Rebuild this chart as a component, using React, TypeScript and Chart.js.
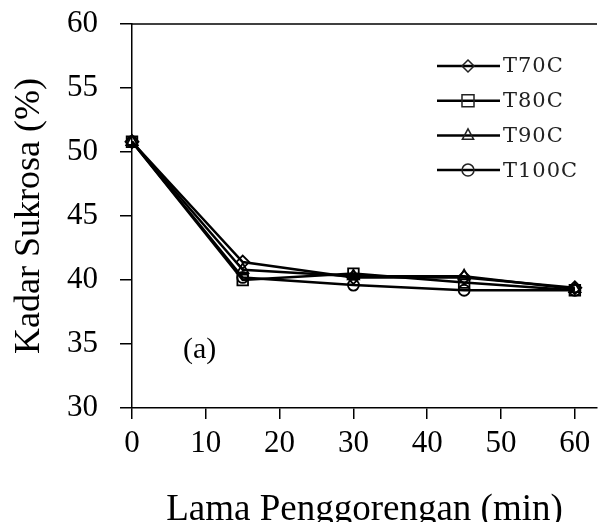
import React, { useEffect, useRef } from 'react';
import { Chart, registerables } from 'chart.js';

Chart.register(...registerables);

const minutes = [0, 15, 30, 45, 60];
const seriesNames = ['T70C', 'T80C', 'T90C', 'T100C'];
const t70 = [50.8, 41.4, 40.2, 40.2, 39.4];
const t80 = [50.8, 40.0, 40.5, 39.8, 39.2];
const t90 = [50.8, 40.8, 40.3, 40.3, 39.3];
const t100 = [50.8, 40.2, 39.6, 39.2, 39.2];
const xTicks = [0, 10, 20, 30, 40, 50, 60];
const yTicks = [30, 35, 40, 45, 50, 55, 60];
const xTitle = 'Lama Penggorengan (min)';
const yTitle = 'Kadar Sukrosa (%)';
const panelLabel = '(a)';

const seriesValues = [t70, t80, t90, t100];
const pointStyles = ['rectRot', 'rect', 'triangle', 'circle'];
const pointRadii = [6.5, 7.5, 6.5, 5.5];
const legendRadii = [6, 8.5, 6.5, 6];

const SERIF = "'Liberation Serif', 'Times New Roman', serif";

function drawMarker(ctx: CanvasRenderingContext2D, style: string, x: number, y: number, r: number) {
  ctx.beginPath();
  if (style === 'rectRot') {
    ctx.moveTo(x, y - r);
    ctx.lineTo(x + r, y);
    ctx.lineTo(x, y + r);
    ctx.lineTo(x - r, y);
    ctx.closePath();
  } else if (style === 'rect') {
    const s = r * Math.SQRT1_2;
    ctx.rect(x - s, y - s, 2 * s, 2 * s);
  } else if (style === 'triangle') {
    ctx.moveTo(x, y - r);
    ctx.lineTo(x + r * 0.866, y + r * 0.6);
    ctx.lineTo(x - r * 0.866, y + r * 0.6);
    ctx.closePath();
  } else {
    ctx.arc(x, y, r, 0, Math.PI * 2);
  }
  ctx.stroke();
}

const decorPlugin = {
  id: 'decor',
  afterDraw(chart: any) {
    const ctx: CanvasRenderingContext2D = chart.ctx;
    const area = chart.chartArea;
    ctx.save();
    // top border line
    ctx.strokeStyle = '#000';
    ctx.lineWidth = 1.5;
    ctx.beginPath();
    ctx.moveTo(area.left, area.top);
    ctx.lineTo(area.right, area.top);
    ctx.stroke();

    // legend
    const lx0 = 437;
    const lx1 = 500;
    const mx = 468;
    seriesNames.forEach((name, i) => {
      const y = 66 + i * 34.7;
      ctx.strokeStyle = '#000';
      ctx.lineWidth = 2.5;
      ctx.beginPath();
      ctx.moveTo(lx0, y);
      ctx.lineTo(lx1, y);
      ctx.stroke();
      ctx.lineWidth = 1.5;
      ctx.strokeStyle = '#222';
      drawMarker(ctx, pointStyles[i], mx, y, legendRadii[i]);
      ctx.fillStyle = '#222';
      ctx.font = "21px 'DejaVu Serif', serif";
      (ctx as any).letterSpacing = '1px';
      ctx.textAlign = 'left';
      ctx.textBaseline = 'middle';
      ctx.fillText(name, 503, y + 1);
    });
    (ctx as any).letterSpacing = '0px';

    // panel label
    ctx.fillStyle = '#000';
    ctx.font = `30px ${SERIF}`;
    ctx.textAlign = 'left';
    ctx.textBaseline = 'alphabetic';
    ctx.fillText(panelLabel, 183, 358);
    ctx.restore();
  },
};

export default function App() {
  const ref = useRef<HTMLCanvasElement | null>(null);

  useEffect(() => {
    document.body.style.margin = '0';
    if (!ref.current) return;
    const chart = new Chart(ref.current, {
      type: 'line',
      data: {
        datasets: seriesNames.map((name, i) => ({
          label: name,
          data: minutes.map((m, j) => ({ x: m, y: seriesValues[i][j] })),
          borderColor: '#000',
          borderWidth: 2.5,
          pointStyle: pointStyles[i] as any,
          pointRadius: pointRadii[i],
          pointBorderColor: '#000',
          pointBackgroundColor: 'rgba(0,0,0,0)',
          pointBorderWidth: 1.8,
          tension: 0,
          clip: false as any,
        })),
      },
      options: {
        responsive: false,
        animation: false,
        layout: { padding: { left: 0, top: 24, right: 13, bottom: -10 } },
        plugins: {
          legend: { display: false },
          tooltip: { enabled: false },
        },
        scales: {
          x: {
            type: 'linear',
            min: 0,
            max: 63,
            afterBuildTicks: (s: any) => {
              s.ticks = xTicks.map((v) => ({ value: v }));
            },
            afterFit: (s: any) => {
              s.height = 124;
              s.paddingLeft = 0;
              s.paddingRight = 0;
            },
            ticks: {
              color: '#000',
              font: { family: SERIF, size: 31 },
              padding: 6,
              maxRotation: 0,
              autoSkip: false,
            },
            grid: {
              display: true,
              drawOnChartArea: false,
              drawTicks: true,
              tickLength: 11,
              color: '#000',
              lineWidth: 1.5,
            },
            border: { display: true, color: '#000', width: 1.5 },
            title: {
              display: true,
              text: xTitle,
              color: '#000',
              font: { family: SERIF, size: 37 },
              padding: { top: 0, bottom: 0 },
            },
          },
          y: {
            type: 'linear',
            min: 30,
            max: 60,
            afterBuildTicks: (s: any) => {
              s.ticks = yTicks.map((v) => ({ value: v }));
            },
            afterFit: (s: any) => {
              s.width = 132;
              s.paddingTop = 0;
              s.paddingBottom = 0;
            },
            ticks: {
              color: '#000',
              font: { family: SERIF, size: 31 },
              padding: 22,
              autoSkip: false,
            },
            grid: {
              display: true,
              drawOnChartArea: false,
              drawTicks: true,
              tickLength: 12,
              color: '#000',
              lineWidth: 1.5,
            },
            border: { display: true, color: '#000', width: 1.5 },
            title: {
              display: true,
              text: yTitle,
              color: '#000',
              font: { family: SERIF, size: 36 },
              padding: { top: 8, bottom: 0 },
            },
          },
        },
      },
      plugins: [decorPlugin],
    });
    return () => chart.destroy();
  }, []);

  return (
    <div style={{ width: 610, height: 522 }}>
      <canvas ref={ref} width={610} height={522} style={{ display: 'block', width: 610, height: 522 }} />
    </div>
  );
}
